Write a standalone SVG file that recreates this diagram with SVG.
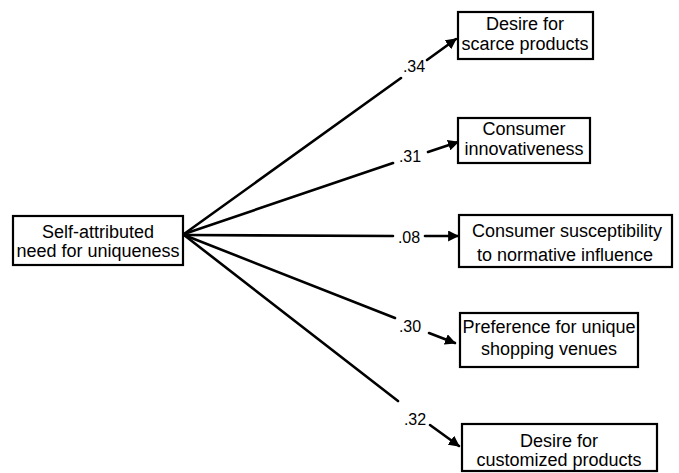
<svg xmlns="http://www.w3.org/2000/svg" width="679" height="473" viewBox="0 0 679 473">
<defs>
<style>
.box{fill:#fff;stroke:#000;stroke-width:2.2}
.t{font-family:"Liberation Sans",Arial,sans-serif;font-size:18px;fill:#000;text-anchor:middle}
.lbl{font-family:"Liberation Sans",Arial,sans-serif;font-size:16px;fill:#000;text-anchor:middle}
.ln{stroke:#000;stroke-width:2.6;fill:none;stroke-linecap:round}
</style>
<marker id="ah" viewBox="0 0 10 10" refX="9" refY="5" markerWidth="11" markerHeight="11" markerUnits="userSpaceOnUse" orient="auto">
<path d="M0,0 L10,5 L0,10 Z" fill="#000"/>
</marker>
</defs>
<rect width="679" height="473" fill="#fff"/>
<g id="connectors">
<line class="ln" x1="184" y1="234" x2="401" y2="78"/>
<line class="ln" x1="427" y1="60" x2="456" y2="39" marker-end="url(#ah)"/>
<text class="lbl" x="414" y="72">.34</text>
<line class="ln" x1="184" y1="234" x2="393" y2="163"/>
<line class="ln" x1="428" y1="152" x2="458" y2="142" marker-end="url(#ah)"/>
<text class="lbl" x="410" y="162">.31</text>
<line class="ln" x1="184" y1="235" x2="393" y2="236"/>
<line class="ln" x1="425" y1="236" x2="458" y2="236" marker-end="url(#ah)"/>
<text class="lbl" x="409" y="243">.08</text>
<line class="ln" x1="184" y1="235" x2="395" y2="318"/>
<line class="ln" x1="429" y1="333" x2="455" y2="343" marker-end="url(#ah)"/>
<text class="lbl" x="410" y="332">.30</text>
<line class="ln" x1="184" y1="235" x2="398" y2="401"/>
<line class="ln" x1="430" y1="425" x2="459" y2="446" marker-end="url(#ah)"/>
<text class="lbl" x="415" y="425">.32</text>
</g>
<g id="source">
<rect class="box" x="13" y="216" width="170" height="49"/>
<text class="t" x="98" y="238">Self-attributed</text>
<text class="t" x="98" y="257">need for uniqueness</text>
</g>
<g id="scarce">
<rect class="box" x="458" y="12" width="135" height="47"/>
<text class="t" x="525" y="30">Desire for</text>
<text class="t" x="525" y="50">scarce products</text>
</g>
<g id="innov">
<rect class="box" x="458" y="118" width="132" height="45"/>
<text class="t" x="524" y="135">Consumer</text>
<text class="t" x="524" y="155">innovativeness</text>
</g>
<g id="normative">
<rect class="box" x="459" y="215" width="213" height="52"/>
<text class="t" x="567" y="237">Consumer susceptibility</text>
<text class="t" x="565" y="261">to normative influence</text>
</g>
<g id="venues">
<rect class="box" x="460" y="313" width="178" height="54"/>
<text class="t" x="549" y="333">Preference for unique</text>
<text class="t" x="549" y="355">shopping venues</text>
</g>
<g id="customized">
<rect class="box" x="462" y="424" width="195" height="47"/>
<text class="t" x="559" y="447">Desire for</text>
<text class="t" x="559" y="466">customized products</text>
</g>
</svg>
